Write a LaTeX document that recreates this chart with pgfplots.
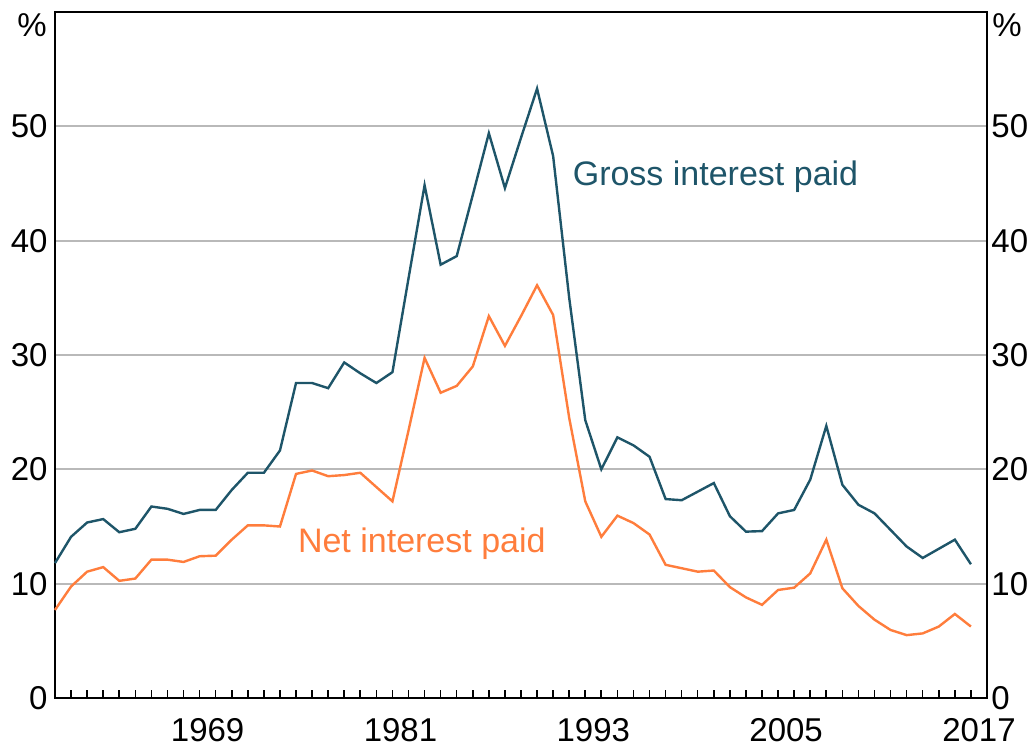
\documentclass[border=0pt]{standalone}
\usepackage{pgfplots}
\pgfplotsset{compat=1.18}
\usepackage{pgfplotstable}
\usepackage{fontspec}
\setmainfont{Liberation Sans}
\definecolor{grosscol}{RGB}{30,85,105}
\definecolor{netcol}{RGB}{255,125,60}
\definecolor{gridcol}{RGB}{185,185,185}

\pgfplotstableread{
year gross net
1960 11.8 7.7
1961 14.1 9.75
1962 15.35 11.05
1963 15.65 11.45
1964 14.5 10.25
1965 14.8 10.45
1966 16.75 12.1
1967 16.55 12.1
1968 16.1 11.9
1969 16.45 12.4
1970 16.45 12.45
1971 18.2 13.85
1972 19.7 15.1
1973 19.7 15.1
1974 21.65 15.0
1975 27.55 19.6
1976 27.55 19.9
1977 27.1 19.4
1978 29.35 19.5
1979 28.4 19.7
1980 27.55 18.45
1981 28.5 17.2
1982 36.7 23.4
1983 44.85 29.75
1984 37.9 26.7
1985 38.65 27.3
1986 44.0 29.0
1987 49.4 33.4
1988 44.6 30.8
1989 49.0 33.4
1990 53.3 36.1
1991 47.4 33.5
1992 35.0 24.5
1993 24.3 17.2
1994 20.0 14.1
1995 22.8 15.95
1996 22.1 15.3
1997 21.1 14.3
1998 17.4 11.65
1999 17.3 11.35
2000 18.05 11.05
2001 18.8 11.15
2002 15.9 9.7
2003 14.55 8.8
2004 14.6 8.15
2005 16.15 9.45
2006 16.45 9.65
2007 19.1 10.9
2008 23.8 13.85
2009 18.65 9.6
2010 16.9 8.05
2011 16.15 6.85
2012 14.7 5.95
2013 13.25 5.5
2014 12.25 5.65
2015 13.05 6.25
2016 13.85 7.35
2017 11.7 6.25
}\datatable

\begin{document}
\begin{tikzpicture}
\useasboundingbox (-27.5pt,-24pt) rectangle (489pt,349pt);
\pgfplotsset{
  common/.style={
    at={(0,0)}, anchor=south west,
    scale only axis, width=466pt, height=343pt,
    xmin=1960, xmax=2018, ymin=0, ymax=60,
    ytick={0,10,...,50},
    ytick style={draw=none},
    /pgf/number format/assume math mode=true,
    ticklabel style={font=\fontsize{16.5}{18}\selectfont},
    axis line style={black, line width=0.8pt},
  }
}
\begin{axis}[common,
  xtick={1969.5,1981.5,1993.5,2005.5,2017.5},
  xticklabels={1969,1981,1993,2005,2017},
  minor xtick={1961,1962,...,2017},
  major x tick style={draw=none},
  minor x tick style={black, line width=0.8pt},
  minor tick length=4pt,
  tick align=inside,
  xtick pos=bottom,
  yticklabel pos=left,
  xticklabel style={anchor=north, inner sep=0pt, yshift=-10pt},
  yticklabel style={anchor=east, inner sep=0pt, xshift=-3.5pt},
  ymajorgrids,
  major grid style={gridcol, line width=0.9pt},
  clip=false,
]
\addplot[grosscol, line width=1.2pt] table[x=year, y=gross] {\datatable};
\addplot[netcol, line width=1.2pt] table[x=year, y=net] {\datatable};
\node[anchor=west, inner sep=0pt, text=grosscol, font=\fontsize{17}{19}\selectfont] at (axis cs:1992.2,45.6) {Gross interest paid};
\node[anchor=west, inner sep=0pt, text=netcol, font=\fontsize{17}{19}\selectfont] at (axis cs:1975.1,13.5) {Net interest paid};
\node[anchor=north east, inner sep=0pt, font=\fontsize{16.5}{18}\selectfont] at ([xshift=-4pt,yshift=-0.5pt]rel axis cs:0,1) {\%};
\node[anchor=north west, inner sep=0pt, font=\fontsize{16.5}{18}\selectfont] at ([xshift=2.5pt,yshift=-0.5pt]rel axis cs:1,1) {\%};
\end{axis}
\begin{axis}[common,
  xtick=\empty,
  axis x line=none,
  axis y line*=right,
  yticklabel pos=right,
  yticklabel style={anchor=west, inner sep=0pt, xshift=2pt},
]
\end{axis}
\end{tikzpicture}
\end{document}
